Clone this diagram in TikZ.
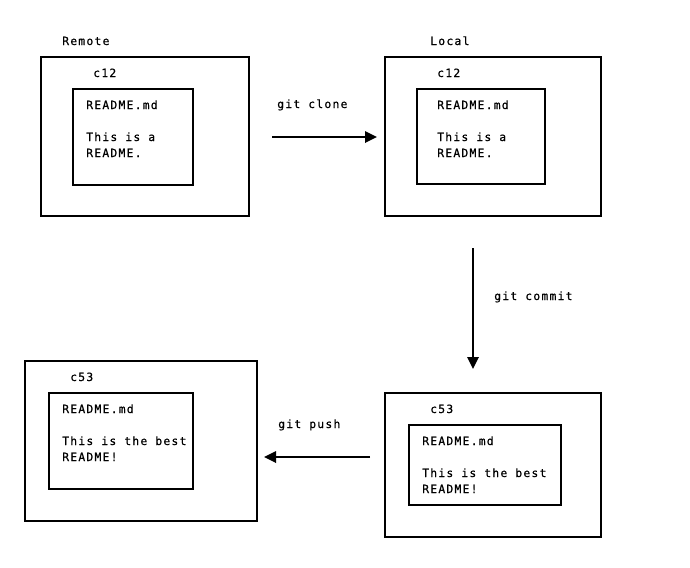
\documentclass[tikz,border=0pt]{standalone}
\usepackage{fontspec}
\newfontfamily\codefont{DejaVu Sans Mono}[LetterSpace=11,FakeBold=0.6]
\usetikzlibrary{arrows.meta}
\begin{document}
\begin{tikzpicture}[x=0.75pt,y=-0.75pt,
  lbl/.style={anchor=base west,inner sep=0pt,font=\codefont\fontsize{8.5}{12}\selectfont},
  frame/.style={draw,line width=1.7pt,inner sep=0pt,outer sep=0pt,anchor=north west},
  flow/.style={line width=1.7pt,-{Triangle[length=9pt,width=8.5pt]}}]
\path[use as bounding box,fill=white] (0,0) rectangle (690,568);

% Remote repository, commit c12
\node[lbl] (remoteLbl) at (62,45) {Remote};
\node[frame,minimum width=156pt,minimum height=119.25pt] (remote) at (41,57) {};
\node[lbl] (rC12) at (93,77) {c12};
\node[frame,minimum width=90pt,minimum height=72pt] (rFile) at (73,89) {};
\node[lbl] (rName) at (86,109) {README.md};
\node[lbl] (rBody1) at (86,141) {This is a};
\node[lbl] (rBody2) at (86,157) {README.};

% Local repository, commit c12
\node[lbl] (localLbl) at (430,45) {Local};
\node[frame,minimum width=162pt,minimum height=119.25pt] (local) at (385,57) {};
\node[lbl] (lC12) at (437,77) {c12};
\node[frame,minimum width=96pt,minimum height=71.25pt] (lFile) at (417,89) {};
\node[lbl] (lName) at (437,109) {README.md};
\node[lbl] (lBody1) at (437,141) {This is a};
\node[lbl] (lBody2) at (437,157) {README.};

% Local repository, commit c53
\node[frame,minimum width=162pt,minimum height=108pt] (local2) at (385,393) {};
\node[lbl] (l2C53) at (430,413) {c53};
\node[frame,minimum width=114pt,minimum height=60pt] (l2File) at (409,425) {};
\node[lbl] (l2Name) at (422,445) {README.md};
\node[lbl] (l2Body1) at (422,477) {This is the best};
\node[lbl] (l2Body2) at (422,493) {README!};

% Remote repository, commit c53
\node[frame,minimum width=174pt,minimum height=120pt] (remote2) at (25,361) {};
\node[lbl] (r2C53) at (70,381) {c53};
\node[frame,minimum width=108pt,minimum height=72pt] (r2File) at (49,393) {};
\node[lbl] (r2Name) at (62,413) {README.md};
\node[lbl] (r2Body1) at (62,445) {This is the best};
\node[lbl] (r2Body2) at (62,461) {README!};

% Arrow end points
\coordinate (cloneA) at (272,137);
\coordinate (cloneB) at (377,137);
\coordinate (commitA) at (473,248);
\coordinate (commitB) at (473,369);
\coordinate (pushA) at (370,457);
\coordinate (pushB) at (264,457);

\draw[flow] (cloneA) -- (cloneB);
\node[lbl] (cloneLbl) at (277,108) {git clone};
\draw[flow] (commitA) -- (commitB);
\node[lbl] (commitLbl) at (494,300) {git commit};
\draw[flow] (pushA) -- (pushB);
\node[lbl] (pushLbl) at (278,428) {git push};
\end{tikzpicture}
\end{document}
